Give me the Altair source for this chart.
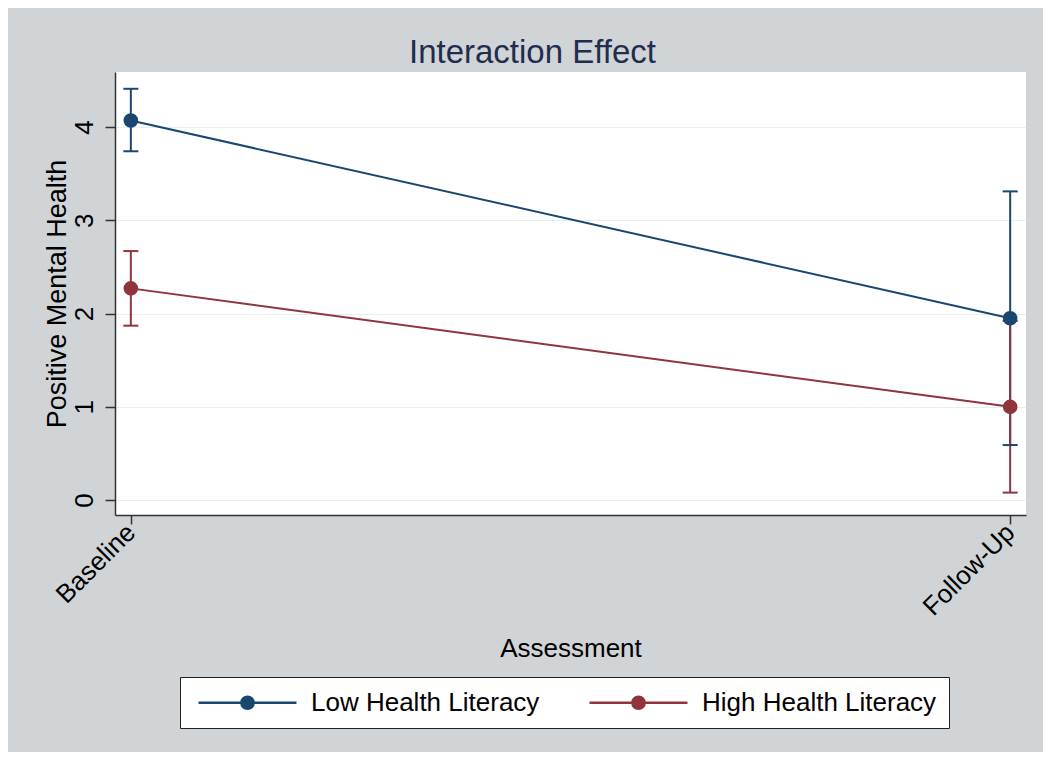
import altair as alt
import pandas as pd

assessment = ["Baseline", "Follow-Up"]
groups = ["Low Health Literacy", "High Health Literacy"]
low_mean = [4.07, 1.95]
low_lo = [3.74, 0.59]
low_hi = [4.41, 3.31]
high_mean = [2.27, 1.00]
high_lo = [1.87, 0.08]
high_hi = [2.67, 1.92]
y_ticks = [0, 1, 2, 3, 4]
colors = ["#1a476f", "#90353b"]

rows = []
for g, m, lo, hi in [(groups[0], low_mean, low_lo, low_hi),
                     (groups[1], high_mean, high_lo, high_hi)]:
    for i, a in enumerate(assessment):
        rows.append(dict(assessment=a, group=g, mean=m[i], lo=lo[i], hi=hi[i], order=i))
df = pd.DataFrame(rows)

FONT = "Liberation Sans"

xenc = alt.X(
    "assessment:N",
    scale=alt.Scale(type="point", domain=assessment, padding=0.018),
    axis=alt.Axis(
        labelAngle=315, labelAlign="right", labelBaseline="middle",
        tickSize=9, labelPadding=4, grid=False, domainColor="#333333",
        tickColor="#333333", domainWidth=1.5, tickWidth=1.5,
        labelFont=FONT, labelFontSize=26, labelColor="black",
        title="Assessment", titleFont=FONT, titleFontSize=26,
        titleFontWeight="normal", titleColor="black", titlePadding=16,
    ),
)

ydom = alt.Scale(domain=[-0.16, 4.59], nice=False, zero=False)
yaxis = alt.Axis(
    values=y_ticks, grid=True, gridColor="#e6eef0", gridWidth=1.2,
    domainColor="#333333", tickColor="#333333", domainWidth=1.5, tickWidth=1.5,
    tickSize=10, labelAngle=270, labelAlign="center", labelBaseline="bottom",
    labelPadding=8, labelFont=FONT, labelFontSize=26, labelColor="black",
    title="Positive Mental Health", titleFont=FONT, titleFontSize=27,
    titleFontWeight="normal", titleColor="black", titlePadding=0,
)

cscale = alt.Scale(domain=groups, range=colors)

sym_path = ("M-4,0L4,0M-0.5,0A0.5,0.5,0,1,1,0.5,0"
            "A0.5,0.5,0,1,1,-0.5,0Z")
legend = alt.Legend(
    orient="none", legendX=65, legendY=605, direction="horizontal", columns=2,
    title=None, symbolType=sym_path, symbolSize=600, symbolStrokeWidth=2.5,
    labelFont=FONT, labelFontSize=26, labelColor="black",
    labelOffset=50, columnPadding=43, padding=12, fillColor="white",
    strokeColor="#222222", symbolOffset=42, labelLimit=400,
)


def stroke_enc():
    return alt.Stroke("group:N", scale=cscale, legend=legend)


def fill_enc():
    return alt.Fill("group:N", scale=cscale, legend=legend)


base = alt.Chart(df)

rules = base.mark_rule(strokeWidth=2).encode(
    x=xenc, y=alt.Y("lo:Q", scale=ydom, axis=yaxis), y2="hi:Q", stroke=stroke_enc()
)
cap_lo = base.mark_tick(size=15, thickness=2, opacity=1).encode(
    x=xenc, y=alt.Y("lo:Q", scale=ydom, axis=yaxis), fill=fill_enc()
)
cap_hi = base.mark_tick(size=15, thickness=2, opacity=1).encode(
    x=xenc, y=alt.Y("hi:Q", scale=ydom, axis=yaxis), fill=fill_enc()
)
lines = base.mark_line(strokeWidth=2).encode(
    x=xenc, y=alt.Y("mean:Q", scale=ydom, axis=yaxis), stroke=stroke_enc(),
    order="order:Q",
)
points = base.mark_point(filled=True, size=160, opacity=1, strokeWidth=2).encode(
    x=xenc, y=alt.Y("mean:Q", scale=ydom, axis=yaxis),
    fill=fill_enc(), stroke=stroke_enc(),
)

chart = alt.layer(rules, cap_lo, cap_hi, lines, points).properties(
    width=911, height=443,
    padding={"left": 107, "top": 64, "right": 17, "bottom": 237},
    autosize=alt.AutoSizeParams(type="none"),
    background="#d0d4d7",
    title=alt.TitleParams(
        "Interaction Effect", font=FONT, fontSize=33, fontWeight="normal",
        color="#1f2d4f", anchor="middle", dx=-38, dy=34, offset=10,
        baseline="alphabetic",
    ),
).configure_view(stroke=None, fill="white")

chart.save("out.html", embed_options={"renderer": "svg", "actions": False})
